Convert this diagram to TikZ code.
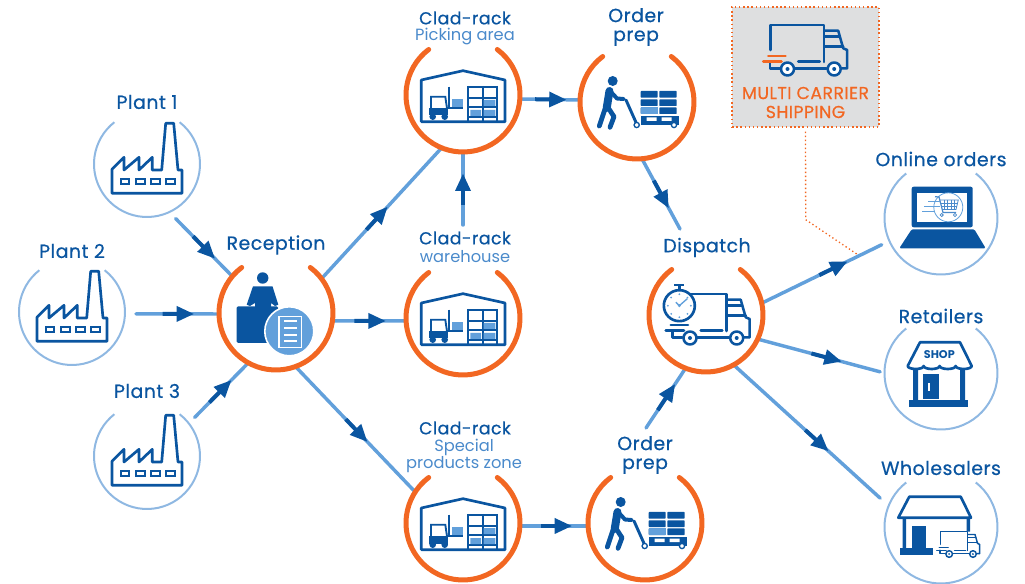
\documentclass[tikz,border=0pt]{standalone}
\usepackage{fontspec}
\setmainfont{Poppins}
\newfontfamily\titlefont{Poppins}[FakeBold=0.55,LetterSpace=2.5]
\usetikzlibrary{positioning,decorations.markings}

\definecolor{siteblue}{HTML}{0A55A0}
\definecolor{flowblue}{HTML}{62A0DB}
\definecolor{ringblue}{HTML}{8FB8E2}
\definecolor{subblue}{HTML}{4A8ACB}
\definecolor{siteorange}{HTML}{F26722}
\definecolor{boxgray}{HTML}{DEDFE0}

\tikzset{
  orangesite/.style={circle,minimum size=85.5pt,inner sep=0pt,outer sep=0pt},
  bluesite/.style={circle,minimum size=80pt,inner sep=0pt,outer sep=0pt},
  shopsite/.style={circle,minimum size=84.75pt,inner sep=0pt,outer sep=0pt},
  orangearc/.style={draw=siteorange,line width=3.75pt,line cap=round},
  bluearc/.style={draw=ringblue,line width=1.5pt},
  titletext/.style={font=\titlefont\fontsize{14.2}{14.2}\selectfont,text=siteblue,align=center,inner sep=0pt},
  cladtext/.style={font=\titlefont\fontsize{13}{13}\selectfont,text=siteblue,inner sep=0pt},
  subtext/.style={font=\fontsize{12.2}{12}\selectfont,text=subblue,align=center,inner sep=0pt},
  flowline/.style={draw=flowblue,line width=2.6pt,line cap=round},
  flow/.style={flowline,postaction={decorate},decoration={markings,mark=at position #1 with {
    \fill[siteblue] (-31,-2) rectangle (-14,2);
    \fill[siteblue] (0,0) -- (-17,-8) -- (-17,8) -- cycle;}}},
  thickicon/.style={draw=siteblue,line width=2pt,line join=round},
  thinicon/.style={draw=siteblue,line width=1.4pt},
  speedcolor/.style={draw=siteblue},
  truckline/.style={draw=siteblue,line width=1.9pt,line cap=round,line join=round},
  factory/.pic={
    \draw[thickicon] (-35,29.3) -- (-35,5.3) -- (-23,-6.7) -- (-23,6) -- (-8,-6.7) -- (-8,6) -- (5.3,-6.7) -- (5.3,6)
      -- (14.7,6) -- (18.7,-40.7) -- (26.7,-40.7) -- (31,6) -- (35,6) -- (35,29.3) -- cycle;
    \foreach \x/\w in {-26.3/8.3,-11.3/9,3.7/9,18.7/9.6}
      \draw[thinicon] (\x,15) rectangle ++(\w,5.3);
  },
  receptionist/.pic={
    \fill[siteblue] (-13.3,-35) circle (5.7);
    \fill[siteblue] (-23,-26.7) -- (-3.5,-26.7) -- (2.3,-8.3) -- (-1,-7) -- (-5,-10) -- (-5,-6) -- (-21,-6) -- (-21,-10) -- (-26,-7) -- (-29.3,-8.3) -- cycle;
    \fill[siteblue,rounded corners=1pt] (-39.3,-6.7) rectangle (2,30);
    \draw[white,fill=flowblue,line width=1.2pt] (13.3,18.3) circle (24.5);
    \draw[white,line width=1pt] (3,3.3) rectangle (25.7,34.3);
    \foreach \y in {8.3,15,21.7,27.7}
      \draw[white,line width=1.4pt] (8,\y) -- (21,\y);
  },
  warehouse/.pic={
    \draw[thickicon] (-41.7,26.7) -- (-41.7,-15) -- (0,-24.3) -- (42,-15) -- (42,26.7) -- cycle;
    \fill[siteblue] (-34.3,13.3) rectangle (-15.3,20.5);
    \draw[thinicon] (-32,13.3) -- (-32,1.7) -- (-17.7,1.7) -- (-16,13.3);
    \fill[siteblue] (-30.3,21.7) circle (3.3) (-18.3,21.7) circle (3.3);
    \draw[thinicon] (-13.7,-8.3) -- (-13.7,13.3) -- (0,13.3);
    \fill[flowblue] (-11,4.3) rectangle (0,11.7);
    \foreach \x in {5,19.7,34}
      \draw[thinicon] (\x,-9) -- (\x,25.7);
    \foreach \y in {-7.7,3.3,12.3,21.7}
      \draw[thinicon] (5,\y) -- (34,\y);
    \fill[flowblue] (20.7,5) rectangle (32.3,11) (7.3,15) rectangle (18,21) (20.7,15) rectangle (32.3,21);
  },
  orderman/.pic={
    \fill[siteblue] (-24.3,-21) circle (5);
    \draw[siteblue,line width=6pt,line cap=round,line join=round] (-27.5,-11) -- (-30.3,6);
    \draw[siteblue,line width=3pt,line cap=round,line join=round] (-26,-10) -- (-20,-3.5) -- (-13.7,-3);
    \draw[siteblue,line width=3.6pt,line cap=round,line join=round] (-32,7) -- (-37.7,24);
    \draw[siteblue,line width=3.6pt,line cap=round,line join=round] (-28,7) -- (-23,14.7) -- (-27,25.3);
    \draw[siteblue,line width=2.2pt,line cap=round] (-11,-2) -- (-0.3,22);
    \foreach \x/\w in {3.7/17,22.3/17.4}
      \foreach \y in {-11,-2.7,5.3}
        \fill[siteblue,rounded corners=0.5pt] (\x,\y) rectangle ++(\w,6.7);
    \fill[flowblue] (3.7,5.3) rectangle ++(17,6.7);
    \fill[siteblue] (3.7,13.7) rectangle (42.3,23);
    \fill[white] (9.7,15.5) rectangle (19.7,19) (24.7,15.5) rectangle (34.7,19);
    \draw[siteblue,fill=white,line width=1pt] (-0.3,23) circle (2.6) (37,23) circle (2.6);
  },
  truck/.pic={
    \draw[truckline] (-35,0) -- (-35,-25) -- (18.3,-25) -- (18.3,1.7);
    \draw[truckline] (19.3,-19.3) -- (32.7,-19.3) -- (37.7,-1.7) -- (41.7,0) -- (41.7,18.3) -- (36,18.3);
    \draw[truckline] (19.3,-13.3) -- (34,-13.3) (19.3,-3.5) -- (37.7,-3.5) (18.3,1.7) -- (18.3,12);
    \draw[truckline] (-35.7,11.7) -- (-35.7,18.3) -- (-25.7,18.3) (-10.7,18.3) -- (21,18.3) (-7.3,11.7) -- (14.3,11.7);
    \draw[truckline,fill=white] (-18,19) circle (6.5) (28.7,19) circle (6.5);
    \fill[siteblue] (-18,19) circle (2) (28.7,19) circle (2);
    \draw[truckline,speedcolor] (-37.3,6) -- (-20,6) (-42.3,11.7) -- (-24,11.7);
  },
  stopwatch/.pic={
    \draw[thickicon,fill=white] (0,0) circle (15.5);
    \draw[thickicon] (0,-15.5) -- (0,-20) (-5,-20.5) -- (5,-20.5);
    \foreach \a in {0,45,...,315}
      \fill[flowblue] (\a:11.5) circle (1);
    \draw[flowblue,line width=1pt] (-3.5,-3.5) -- (0,0) -- (8,-7);
    \fill[flowblue] (0,0) circle (1.6);
  },
  laptop/.pic={
    \fill[siteblue,rounded corners=1.5pt] (-29.3,-31.3) rectangle (31.7,9.3);
    \fill[white] (-23.7,-25.3) rectangle (26.3,3.7);
    \fill[siteblue,rounded corners=1pt] (-29.3,11.3) -- (33.3,11.3) -- (44.7,30.3) -- (-41.7,30.3) -- cycle;
    \draw[flowblue,line width=0.6pt] (7.3,-10.7) circle (14.5);
    \draw[subblue,line width=0.9pt] (-6,-21.3) -- (-2,-21) -- (2,-5.5) -- (15,-5.5);
    \draw[subblue,line width=0.6pt] (-1,-18) -- (17.3,-18) -- (15,-8.5) -- (1,-8.5);
    \foreach \x in {3,6.5,10,13.5}
      \draw[subblue,line width=0.6pt] (\x,-18) -- (\x,-8.5);
    \draw[subblue,line width=0.6pt] (0,-14.8) -- (16.5,-14.8) (0.5,-11.6) -- (16,-11.6);
    \draw[subblue,line width=0.6pt] (0.7,-3) circle (1.6) (14,-3) circle (1.6);
    \draw[flowblue,line width=0.9pt] (-13,-16.3) -- (-1,-16.3) (-17,-11.5) -- (-1,-11.5) (-19,-6.7) -- (-6,-6.7);
  },
  shopfront/.pic={
    \draw[thickicon] (-21,-30.7) -- (19,-30.7) -- (30.7,-7)
      arc[start angle=0,end angle=180,x radius=8,y radius=3]
      arc[start angle=0,end angle=180,x radius=8,y radius=3]
      arc[start angle=0,end angle=180,x radius=8,y radius=3]
      arc[start angle=0,end angle=180,x radius=8,y radius=3] -- cycle;
    \node (shopsign) at (-1.7,-18) [inner sep=0pt,text=siteblue,font=\bfseries\fontsize{8.4}{8}\selectfont] {SHOP};
    \fill[siteblue] (-28,-4) rectangle (-23,27) (19,-4) rectangle (24,27);
    \fill[siteblue] (-31.7,27) rectangle (27.3,34.3);
    \fill[siteblue] (-18.3,1.3) rectangle (-2,26.3);
    \fill[white] (-12.8,10) rectangle (-11.5,18);
  },
  depot/.pic={
    \draw[thickicon] (-31.7,-30.3) -- (19.7,-30.3) -- (30,-9.3) -- (-42.7,-9.3) -- cycle;
    \fill[siteblue] (-38.5,-9.3) rectangle (-35,21.3) (25.5,-9.3) rectangle (29,4.7);
    \fill[siteblue] (-29.3,-1.3) rectangle (-15,21.3);
    \fill[siteblue] (-41,21.3) rectangle (-8.3,28);
  },
}

\begin{document}
\begin{tikzpicture}[x=0.75pt,y=-0.75pt]
\useasboundingbox (0,0) rectangle (1025,584);

\node[bluesite] (plantone) at (147,164) {};
\node[bluesite] (planttwo) at (72,312) {};
\node[bluesite] (plantthree) at (147,456) {};
\node[orangesite] (reception) at (276,313) {};
\node[orangesite] (cladone) at (463,95) {};
\node[orangesite] (cladtwo) at (463,318) {};
\node[orangesite] (cladthree) at (463,523) {};
\node[orangesite] (orderone) at (637,102) {};
\node[orangesite] (ordertwo) at (645,523) {};
\node[orangesite] (dispatch) at (706,315) {};
\node[shopsite] (online) at (941,218) {};
\node[shopsite] (retailers) at (941,373) {};
\node[shopsite] (wholesalers) at (941,527) {};

\node[titletext] (plantonetitle) at (147,102) {Plant 1};
\node[titletext] (planttwotitle) at (72,251) {Plant 2};
\node[titletext] (plantthreetitle) at (147,391) {Plant 3};
\node[titletext] (receptiontitle) at (276,245) {Reception};
\node[cladtext] (cladonetitle) at (465,18) {Clad-rack};
\node[subtext] (cladonesub) at (465,37) {Picking area};
\node[cladtext] (cladtwotitle) at (465,238) {Clad-rack};
\node[subtext] (cladtwosub) at (465,257) {warehouse};
\node[cladtext] (cladthreetitle) at (465,428) {Clad-rack};
\node[subtext] (cladthreesub) at (464,456) {Special\\products zone};
\node[titletext] (orderonetitle) at (636,27) {Order\\prep};
\node[titletext] (ordertwotitle) at (645,455) {Order\\prep};
\node[titletext] (dispatchtitle) at (707,247.5) {Dispatch};
\node[titletext] (onlinetitle) at (941,159) {Online orders};
\node[titletext] (retailerstitle) at (941,316) {Retailers};
\node[titletext] (wholesalerstitle) at (941,468) {Wholesalers};

\coordinate (cladtwoout) at (463,225);
\coordinate (dispatchin) at (680,229);
\coordinate (ordertwoout) at (646,428);
\coordinate (carrierbend) at (805.7,219.7);
\coordinate (carrierend) at (856.7,254);

\draw[flow=0.72,shorten <=6.5pt] (plantone.-65) -- (reception.140);
\draw[flow=0.73,shorten <=8pt] (planttwo.-2) -- (reception.181);
\draw[flow=0.71,shorten <=6pt] (plantthree.38) -- (reception.241);
\draw[flow=0.55] (reception.37) -- (cladone.248.6);
\draw[flow=0.72] (reception.-8.5) -- (cladtwo.183.8);
\draw[flow=0.6] (reception.-70) -- (cladthree.147);
\draw[flow=0.7] (cladtwoout) -- (cladone.270);
\draw[flow=0.77] (cladone.-4.8) -- (orderone.178);
\draw[flow=0.76] (cladthree.-3.8) -- (ordertwo.183.8);
\draw[flow=0.7] (orderone.-85) -- (dispatchin);
\draw[flow=0.73] (ordertwoout) -- (dispatch.249);
\draw[flow=0.67,shorten >=6.4pt] (dispatch.12.2) -- (online.204.6);
\draw[flow=0.66,shorten >=3.4pt] (dispatch.-25.7) -- (retailers.180);
\draw[flow=0.61,shorten >=8.5pt] (dispatch.-61) -- (wholesalers.158.4);

\foreach \s in {reception,cladone,cladtwo,cladthree,orderone,ordertwo,dispatch}
  \draw[orangearc] (\s) ++(-53:57) arc[start angle=-53,end angle=233,radius=57];
\foreach \s in {plantone,planttwo,plantthree}
  \draw[bluearc] (\s) ++(-52:53) arc[start angle=-52,end angle=232,radius=53];
\foreach \s in {online,retailers,wholesalers}
  \draw[bluearc] (\s) ++(-52:56.5) arc[start angle=-52,end angle=232,radius=56.5];

\foreach \s in {plantone,planttwo,plantthree}
  \pic at (\s) {factory};
\foreach \s in {cladone,cladtwo,cladthree}
  \pic at (\s) {warehouse};
\foreach \s in {orderone,ordertwo}
  \pic at (\s) {orderman};
\pic at (reception) {receptionist};
\pic at ([xshift=1.5pt,yshift=-3pt]dispatch) {truck};
\pic at ([xshift=-20pt,yshift=7pt]dispatch) {stopwatch};
\pic at (online) {laptop};
\pic at (retailers) {shopfront};
\pic at (wholesalers) {depot};
\pic[scale=0.51,truckline/.style={draw=siteblue,line width=1.1pt,line cap=round,line join=round}] at ([xshift=13pt,yshift=-13pt]wholesalers) {truck};

\node[fill=boxgray,draw=siteorange,dotted,line width=1.1pt,minimum width=110pt,minimum height=90pt,inner sep=0pt] (carrierbox) at (805.5,67) {};
\node[text=siteorange,font=\titlefont\fontsize{13}{14.2}\selectfont,align=center,inner sep=0pt] (carrierlabel) at (805.5,102.5) {MULTI CARRIER\\SHIPPING};
\pic[speedcolor/.style={draw=siteorange}] at (805.5,50) {truck};
\draw[draw=siteorange,dotted,line width=1pt,shorten <=3pt] (carrierbox.south) -- (carrierbend) -- (carrierend);
\end{tikzpicture}
\end{document}
